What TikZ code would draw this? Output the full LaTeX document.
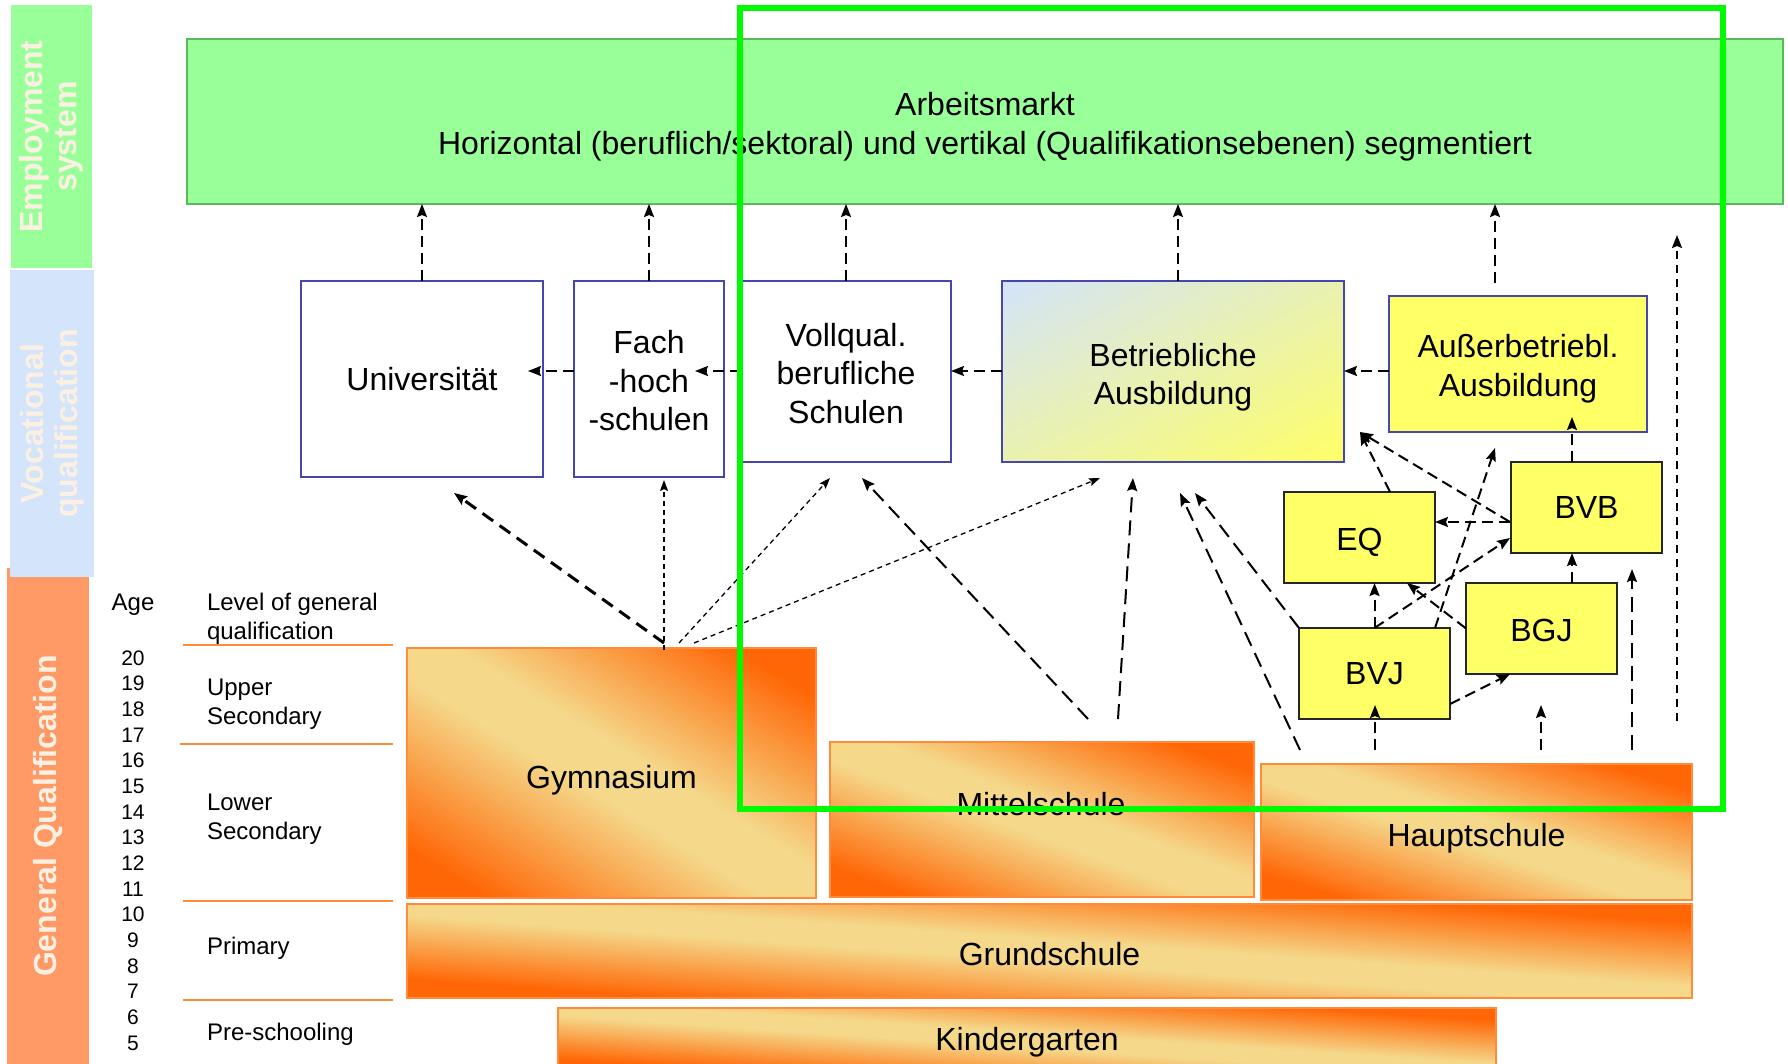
\documentclass[tikz,border=0pt]{standalone}
\usepackage{fontspec}
\setmainfont{Liberation Sans}
\usetikzlibrary{arrows.meta,calc}

\definecolor{empgreen}{RGB}{153,255,153}
\definecolor{empborder}{RGB}{90,185,90}
\definecolor{vocblue}{RGB}{212,228,250}
\definecolor{genorange}{RGB}{255,153,102}
\definecolor{labeltext}{RGB}{252,240,226}
\definecolor{hlgreen}{RGB}{0,250,0}
\definecolor{boxblue}{RGB}{70,70,175}
\definecolor{yel}{RGB}{255,255,102}
\definecolor{lblue}{RGB}{212,228,250}
\definecolor{orng}{RGB}{255,102,5}
\definecolor{lite}{RGB}{245,216,138}
\definecolor{lineorange}{RGB}{255,140,60}

% text lowered by #1 while keeping the box size
\newcommand{\lowered}[2]{\raisebox{-#1}[\height][\depth]{\begin{tabular}{@{}c@{}}#2\end{tabular}}}

% diagonal orange-light-orange gradient (orange at bottom-left and top-right corners)
\newcommand{\schoolgrad}[4]{%
  \begin{scope}
    \clip (#1,#2) rectangle (#3,#4);
    \pgfmathsetmacro\gw{#3-#1}\pgfmathsetmacro\gh{#4-#2}
    \begin{scope}[shift={(#1,#2)}, xscale=\gw, yscale=\gh]
      \foreach \i in {0,...,99} {
        \pgfmathsetmacro\ka{2*\i/100-1}
        \pgfmathsetmacro\kb{2*(\i+1.8)/100-1}
        \pgfmathsetmacro\tm{(\i+0.5)/100}
        \pgfmathtruncatemacro\p{100*min(1,max(0,(abs(\tm-0.5)-0.06)/0.34))}
        \fill[orng!\p!lite] (\ka-1,-1) -- (\ka+2,2) -- (\kb+2,2) -- (\kb-1,-1) -- cycle;
      }
    \end{scope}
  \end{scope}}

% diagonal light-blue (top-left) to yellow (bottom-right) gradient
\newcommand{\betrgrad}[4]{%
  \begin{scope}
    \clip (#1,#2) rectangle (#3,#4);
    \pgfmathsetmacro\gw{#3-#1}\pgfmathsetmacro\gh{#4-#2}
    \begin{scope}[shift={(#1,#2)}, xscale=\gw, yscale=\gh]
      \foreach \i in {0,...,99} {
        \pgfmathsetmacro\ca{2*\i/100}
        \pgfmathsetmacro\cb{2*(\i+1.8)/100}
        \pgfmathtruncatemacro\p{100*(\i+0.5)/100}
        \fill[yel!\p!lblue] (\ca+1,-1) -- (\ca-2,2) -- (\cb-2,2) -- (\cb+1,-1) -- cycle;
      }
    \end{scope}
  \end{scope}}

\tikzset{
  every node/.style={inner sep=0pt, outer sep=0pt},
  txt/.style={font=\fontsize{32}{38.5}\selectfont, align=center},
  lbl/.style={text=labeltext, font=\bfseries\fontsize{32}{34}\selectfont, align=center},
  lvl/.style={font=\fontsize{24}{28.5}\selectfont, align=left, anchor=west},
  agenum/.style={font=\fontsize{21}{24}\selectfont},
  whitebox/.style={draw=boxblue, line width=1.2pt, fill=white, txt},
  yelbox/.style={draw=black!85, line width=1.2pt, fill=yel, txt},
  betrbox/.style={draw=boxblue, line width=1.2pt, txt},
  school/.style={draw=lineorange, line width=1.2pt, txt},
  levelline/.style={draw=lineorange, line width=2pt},
  arr/.style={-{Stealth[length=13pt,width=10pt,inset=2pt]}, line width=2pt, dash pattern=on 11pt off 6pt},
  thickarr/.style={arr, line width=3pt, dash pattern=on 13pt off 8pt},
  thinarr/.style={-{Stealth[length=11pt,width=8pt,inset=2pt]}, line width=1.3pt, dash pattern=on 5pt off 4pt},
  longarr/.style={arr, dash pattern=on 15pt off 8pt},
  rightarr/.style={arr, dash pattern=on 8pt off 6pt},
}

\begin{document}
\begin{tikzpicture}[x=1pt,y=-1pt]
\useasboundingbox (0,0) rectangle (1788,1064);
\begin{scope}
\clip (0,0) rectangle (1788,1064);

% left bars
\node[fill=genorange, rotate=90, minimum width=496pt, minimum height=82pt, lbl] (genbar) at (48,816) {General Qualification};
\node[fill=vocblue, rotate=90, minimum width=307pt, minimum height=84pt, lbl] (vocbar) at (52,423.5) {Vocational\\qualification};
\node[fill=empgreen, rotate=90, minimum width=263pt, minimum height=81pt, lbl] (empbar) at (51.5,136.5) {Employment\\system};

% main box
\node[draw=empborder, fill=empgreen, line width=2pt, minimum width=1596pt, minimum height=165pt, txt] (main) at (985,121.5)
  {\lowered{6pt}{Arbeitsmarkt\\Horizontal (beruflich/sektoral) und vertikal (Qualifikationsebenen) segmentiert}};

% age column
\node[font=\fontsize{24}{28}\selectfont] (agehdr) at (133,605) {Age};
\foreach \i in {0,...,15} {
  \pgfmathtruncatemacro\a{20-\i}
  \node[agenum] (age\a) at (133,{658+\i*25.67}) {\a};
}
\node[lvl] (lvlhdr) at (207,619) {Level of general\\qualification};
\node[lvl] (upper) at (207,704) {Upper\\Secondary};
\node[lvl] (lower) at (207,819) {Lower\\Secondary};
\node[lvl] (primary) at (207,948) {Primary};
\node[lvl] (presch) at (207,1034) {Pre-schooling};
\draw[levelline] (183,645) -- (393,645);
\draw[levelline] (180,744) -- (393,744);
\draw[levelline] (183,901) -- (393,901);
\draw[levelline] (183,1000) -- (393,1000);

% schools
\schoolgrad{407}{648}{816}{898}
\node[school, minimum width=409pt, minimum height=250pt] (gym) at (611.5,773) {\lowered{7.5pt}{Gymnasium}};
\schoolgrad{830}{742}{1254}{897}
\node[school, minimum width=424pt, minimum height=155pt] (mit) at (1042,819.5) {};
\node[txt] (mittxt) at (1041,804) {Mittelschule};
\schoolgrad{1261}{764}{1692}{900}
\node[school, minimum width=431pt, minimum height=136pt] (haupt) at (1476.5,832) {\lowered{6.5pt}{Hauptschule}};
\schoolgrad{407}{904}{1692}{998}
\node[school, minimum width=1285pt, minimum height=94pt] (grund) at (1049.5,951) {\lowered{7pt}{Grundschule}};
\schoolgrad{558}{1008}{1496}{1072}
\node[school, minimum width=938pt, minimum height=64pt] (kind) at (1027,1040) {\lowered{3pt}{Kindergarten}};

% vocational boxes
\node[whitebox, minimum width=242pt, minimum height=196pt] (univ) at (422,379) {Universität};
\node[whitebox, minimum width=150pt, minimum height=196pt] (fach) at (649,379) {\lowered{5.5pt}{Fach\\-hoch\\-schulen}};
\node[whitebox, minimum width=210pt, minimum height=181pt] (voll) at (846,371.5) {\lowered{5.5pt}{Vollqual.\\berufliche\\Schulen}};
\betrgrad{1002}{281}{1344}{462}
\node[betrbox, minimum width=342pt, minimum height=181pt] (betr) at (1173,371.5) {\lowered{6.5pt}{Betriebliche\\Ausbildung}};
\node[yelbox, draw=boxblue, minimum width=258pt, minimum height=136pt] (auss) at (1518,364) {\lowered{5.5pt}{Außerbetriebl.\\Ausbildung}};
\node[yelbox, minimum width=151pt, minimum height=91pt] (eq) at (1359.5,537.5) {\lowered{5pt}{EQ}};
\node[yelbox, minimum width=151pt, minimum height=91pt] (bvb) at (1586.5,507.5) {BVB};
\node[yelbox, minimum width=151pt, minimum height=91pt] (bgj) at (1541.5,628.5) {\lowered{5.5pt}{BGJ}};
\node[yelbox, minimum width=151pt, minimum height=91pt] (bvj) at (1374.5,673.5) {BVJ};

% coordinates for connector ends
\coordinate (betrTop) at (1178,281);
\coordinate (aussTop) at (1495,283);
\coordinate (hy) at (0,371);
\coordinate (univTip) at (528,371);
\coordinate (fachTip) at (695,371);
\coordinate (gU) at (664,643);  \coordinate (tU) at (454,493);
\coordinate (gF) at (664,650);  \coordinate (tF) at (664,480);
\coordinate (gV) at (679,643);  \coordinate (tV) at (830,478);
\coordinate (gB) at (694,643);  \coordinate (tB) at (1100,478);
\coordinate (mV) at (1088,719); \coordinate (tmV) at (862,478);
\coordinate (mB) at (1118,719); \coordinate (tmB) at (1133,478);
\coordinate (hB) at (1300,750); \coordinate (thB) at (1180,493);
\coordinate (tvB) at (1195,493);
\coordinate (tEB) at (1360,432);
\coordinate (eqTop) at (1390,492);
\coordinate (bvbL) at (1510,522);
\coordinate (tBVB) at (1510,538);
\coordinate (tGE) at (1407,583);
\coordinate (bvjR) at (1435,628); \coordinate (tAu) at (1495,448);
\coordinate (bgjT) at (1572,583);
\coordinate (bvbT) at (1572,462); \coordinate (tAu2) at (1572,417);
\coordinate (bvjRE) at (1450,704); \coordinate (tBG) at (1510,674);
\coordinate (h1) at (1375,750); \coordinate (th1) at (1375,705);
\coordinate (h2) at (1541,750); \coordinate (th2) at (1541,705);
\coordinate (h3) at (1632,750); \coordinate (th3) at (1632,569);
\coordinate (r1) at (1677,721); \coordinate (tr1) at (1677,235);

% arrows up to labour market
\draw[arr] (univ.north) -- (univ.north |- main.south);
\draw[arr] (fach.north) -- (fach.north |- main.south);
\draw[arr] (voll.north) -- (voll.north |- main.south);
\draw[arr] (betrTop) -- (betrTop |- main.south);
\draw[arr] (aussTop) -- (aussTop |- main.south);

% horizontal arrows
\draw[arr] (fach.west |- hy) -- (univTip);
\draw[arr] (voll.west |- hy) -- (fachTip);
\draw[arr] (betr.west |- hy) -- (voll.east |- hy);
\draw[arr] (auss.west |- hy) -- (betr.east |- hy);

% from Gymnasium
\draw[thickarr] (gU) -- (tU);
\draw[thinarr] (gF) -- (tF);
\draw[thinarr] (gV) -- (tV);
\draw[thinarr] (gB) -- (tB);

% from Mittelschule
\draw[longarr] (mV) -- (tmV);
\draw[longarr] (mB) -- (tmB);

% from Hauptschule / transition system
\draw[longarr] (hB) -- (thB);
\draw[longarr] (bvj.north west) -- (tvB);
\draw[arr] (eqTop) -- (tEB);
\draw[arr] (bvbL) -- (tEB);
\draw[arr] (bvbL) -- (eq.east |- bvbL);
\draw[arr] (bvj.north) -- (tBVB);
\draw[arr] (bvj.north) -- (bvj.north |- eq.south);
\draw[arr] (bgj.west) -- (tGE);
\draw[arr] (bvjR) -- (tAu);
\draw[arr] (bgjT) -- (bgjT |- bvb.south);
\draw[arr] (bvbT) -- (tAu2);
\draw[arr] (bvjRE) -- (tBG);
\draw[arr] (h1) -- (th1);
\draw[arr] (h2) -- (th2);
\draw[longarr] (h3) -- (th3);
\draw[rightarr] (r1) -- (tr1);

% highlight frame
\node[draw=hlgreen, line width=6pt, minimum width=983pt, minimum height=801pt] (hl) at (1231.5,408.5) {};
\end{scope}
\end{tikzpicture}
\end{document}
